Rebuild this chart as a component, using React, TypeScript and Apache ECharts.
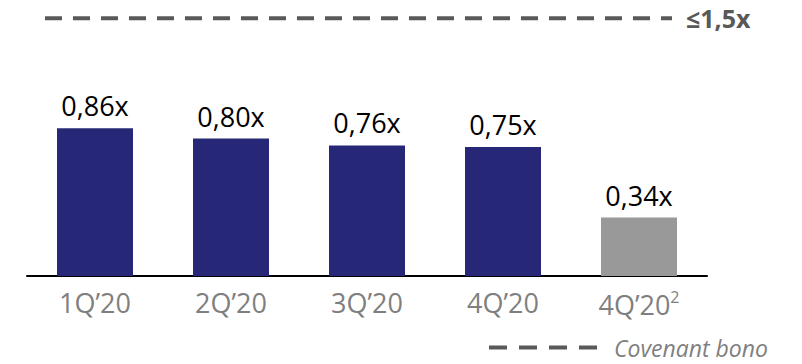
import React, { useEffect, useRef } from "react";
import * as echarts from "echarts";

const categories = ["1Q’20", "2Q’20", "3Q’20", "4Q’20", "4Q’20"];
const footnotes = ["", "", "", "", "2"];
const values = [0.86, 0.8, 0.76, 0.75, 0.34];
const valueLabels = ["0,86x", "0,80x", "0,76x", "0,75x", "0,34x"];
const covenantName = "Covenant bono";
const covenantValue = 1.5;
const covenantLabel = "≤1,5x";
// position of the covenant line along a hidden helper axis (0..680)
const covenantSpan = [18, 645];

const barColors = ["#262877", "#262877", "#262877", "#262877", "#999999"];
const FONT = "'Open Sans', sans-serif";

export default function App() {
  const ref = useRef<HTMLDivElement>(null);
  useEffect(() => {
    document.body.style.margin = "0";
    if (!ref.current) return;
    const chart = echarts.init(ref.current, null, { renderer: "svg" });
    chart.setOption({
      animation: false,
      grid: { left: 27, width: 680, top: 1, height: 275, containLabel: false },
      legend: {
        data: [covenantName],
        left: 482,
        top: 331,
        itemWidth: 108,
        itemHeight: 10,
        itemStyle: { color: "transparent", borderWidth: 0, opacity: 0 },
        lineStyle: { type: [18, 12], width: 4, color: "#595959" },
        formatter: (n: string) => "  " + n,
        textStyle: {
          fontFamily: FONT,
          fontStyle: "italic",
          fontSize: 23,
          color: "#7f7f7f",
        },
      },
      xAxis: [
        {
          type: "category",
          data: categories.map((c, i) => c + footnotes[i] + (i === categories.length - 1 ? " " : "")),
          axisLine: { lineStyle: { color: "#000", width: 2 } },
          axisTick: { show: false },
          axisLabel: {
            margin: 13,
            formatter: (_v: string, i: number) =>
              footnotes[i] ? `{a|${categories[i]}}{s|${footnotes[i]}}` : `{a|${categories[i]}}`,
            rich: {
              a: { fontFamily: FONT, fontSize: 27, color: "#7f7f7f" },
              s: { fontFamily: FONT, fontSize: 16, color: "#7f7f7f", verticalAlign: "top", padding: [0, 0, 14, 0] },
            },
          },
        },
        { type: "value", min: 0, max: 680, show: false },
      ],
      yAxis: { type: "value", min: 0, max: 1.6, show: false, splitLine: { show: false } },
      series: [
        {
          type: "bar",
          barWidth: 76,
          data: values.map((v, i) => ({ value: v, itemStyle: { color: barColors[i] } })),
          label: {
            show: true,
            position: "top",
            distance: 9,
            fontFamily: FONT,
            fontSize: 27,
            color: "#000",
            formatter: (p: any) => valueLabels[p.dataIndex],
          },
        },
        {
          name: covenantName,
          type: "line",
          xAxisIndex: 1,
          symbol: "none",
          silent: true,
          lineStyle: { type: [17, 11], width: 4, color: "#595959" },
          endLabel: {
            show: true,
            distance: 14,
            formatter: covenantLabel,
            fontFamily: FONT,
            fontWeight: "bold",
            fontSize: 25,
            color: "#595959",
          },
          data: [
            [covenantSpan[0], covenantValue],
            [covenantSpan[1], covenantValue],
          ],
        },
      ],
    });
    return () => chart.dispose();
  }, []);
  return <div ref={ref} style={{ width: 802, height: 364 }} />;
}
